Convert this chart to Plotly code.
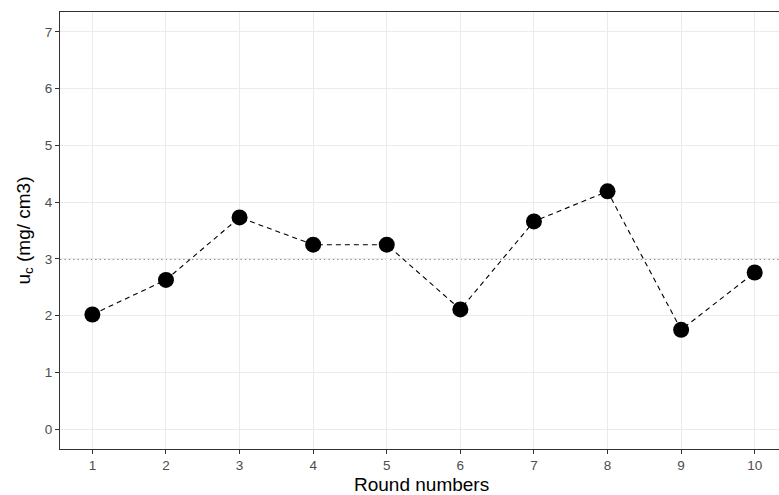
import plotly.graph_objects as go

rounds = [1, 2, 3, 4, 5, 6, 7, 8, 9, 10]
uc_values = [2.02, 2.63, 3.73, 3.25, 3.25, 2.11, 3.66, 4.19, 1.75, 2.76]
reference_level = 3.0
y_ticks = [0, 1, 2, 3, 4, 5, 6, 7]

fig = go.Figure()
fig.add_trace(go.Scatter(
    x=rounds, y=uc_values, mode="lines+markers",
    line=dict(color="black", width=1.1, dash="5px,4px"),
    marker=dict(color="black", size=16),
    showlegend=False,
))
fig.add_hline(y=reference_level, line=dict(color="#1a1a1a", width=1.4, dash="1.4px,3px"), layer="below")

axis_common = dict(
    showgrid=True, gridcolor="#EBEBEB", gridwidth=1,
    showline=True, linecolor="#333333", linewidth=1.3,
    ticks="outside", ticklen=4, tickcolor="#333333", tickwidth=1,
    tickfont=dict(family="Liberation Sans, Arial, sans-serif", size=13.5, color="#4D4D4D"),
    zeroline=False, automargin=False,
)

fig.update_layout(
    width=779, height=495,
    margin=dict(l=60, r=0, t=12, b=46),
    plot_bgcolor="white", paper_bgcolor="white",
    font=dict(family="Liberation Sans, Arial, sans-serif"),
    xaxis=dict(**axis_common, range=[0.56, 10.33], tickvals=rounds, mirror=True),
    yaxis=dict(**axis_common, range=[-0.35, 7.35], tickvals=y_ticks),
    annotations=[
        dict(text="Round numbers", xref="paper", yref="paper", x=0.5, y=0,
             yshift=-48, xshift=2, xanchor="center", yanchor="bottom", showarrow=False,
             font=dict(size=19, color="black")),
        dict(text="u<sub>c</sub> (mg/ cm3)", xref="paper", yref="paper", x=0, y=0.5,
             xshift=-36, xanchor="center", yanchor="middle", textangle=-90, showarrow=False,
             font=dict(size=19, color="black")),
    ],
)

fig.write_html("out.html", config={"displayModeBar": False},
               post_script="document.body.style.margin='0';document.body.style.overflow='hidden';")
